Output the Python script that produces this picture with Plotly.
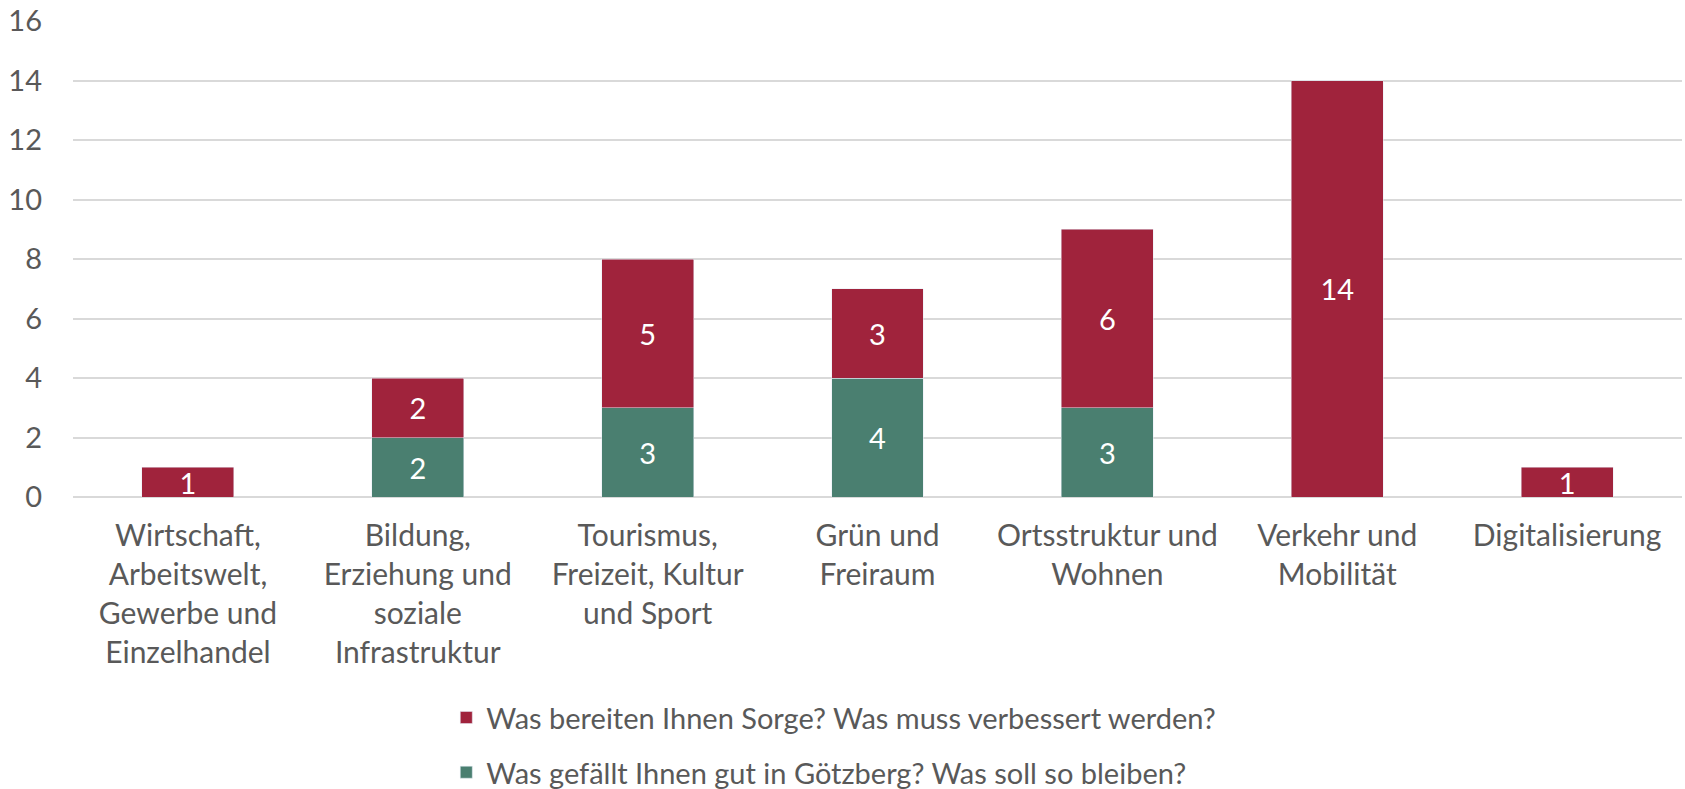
import plotly.graph_objects as go

categories = [
    "Wirtschaft,<br>Arbeitswelt,<br>Gewerbe und<br>Einzelhandel",
    "Bildung,<br>Erziehung und<br>soziale<br>Infrastruktur",
    "Tourismus,<br>Freizeit, Kultur<br>und Sport",
    "Grün und<br>Freiraum",
    "Ortsstruktur und<br>Wohnen",
    "Verkehr und<br>Mobilität",
    "Digitalisierung",
]
gut_values = [None, 2, 3, 4, 3, None, None]
sorge_values = [1, 2, 5, 3, 6, 14, 1]
gut_name = "Was gefällt Ihnen gut in Götzberg? Was soll so bleiben?"
sorge_name = "Was bereiten Ihnen Sorge? Was muss verbessert werden?"
y_ticks = [0, 2, 4, 6, 8, 10, 12, 14, 16]

FONT = "Lato"
FS = 29
TXT = "#595959"
RED = "#A0233C"
GREEN = "#4A7F70"

fig = go.Figure()
fig.add_trace(go.Bar(
    x=categories, y=gut_values, name=gut_name, marker_color=GREEN,
    text=gut_values, texttemplate="%{y}", textposition="inside", textangle=0,
    insidetextanchor="middle", textfont=dict(color="white", size=FS, family=FONT),
    legendgroup="g", legendrank=2, hoverinfo="skip",
))
fig.add_trace(go.Bar(
    x=categories, y=sorge_values, name=sorge_name, marker_color=RED,
    text=sorge_values, texttemplate="%{y}", textposition="inside", textangle=0,
    insidetextanchor="middle", textfont=dict(color="white", size=FS, family=FONT),
    legendgroup="s", legendrank=1, hoverinfo="skip",
))

fig.update_layout(
    width=1685, height=789,
    barmode="stack", bargap=0.6,
    plot_bgcolor="white", paper_bgcolor="white",
    margin=dict(l=73, r=3, t=21, b=292, autoexpand=False),
    font=dict(family=FONT, size=FS, color=TXT),
    uniformtext=dict(mode="show", minsize=FS),
    showlegend=True,
    legend=dict(
        orientation="v", x=0.232, xanchor="left", y=-0.41, yanchor="top",
        traceorder="grouped", tracegroupgap=14,
        font=dict(family=FONT, size=FS, color=TXT),
        bgcolor="rgba(0,0,0,0)",
    ),
)
fig.update_xaxes(
    showgrid=False, showline=False, ticks="", ticklabelstandoff=18,
    tickfont=dict(family=FONT, size=30, color=TXT),
)
fig.update_yaxes(
    range=[0, 16], tickvals=y_ticks, showgrid=True, gridcolor="#D9D9D9", gridwidth=1.5,
    zeroline=True, zerolinecolor="#D9D9D9", zerolinewidth=1.5, showline=False,
    ticks="", ticklabelstandoff=30,
    tickfont=dict(family=FONT, size=FS, color=TXT),
)

fig.write_html(
    "out.html",
    config={"displayModeBar": False},
    post_script="document.body.style.margin='0';document.body.style.overflow='hidden';",
)
